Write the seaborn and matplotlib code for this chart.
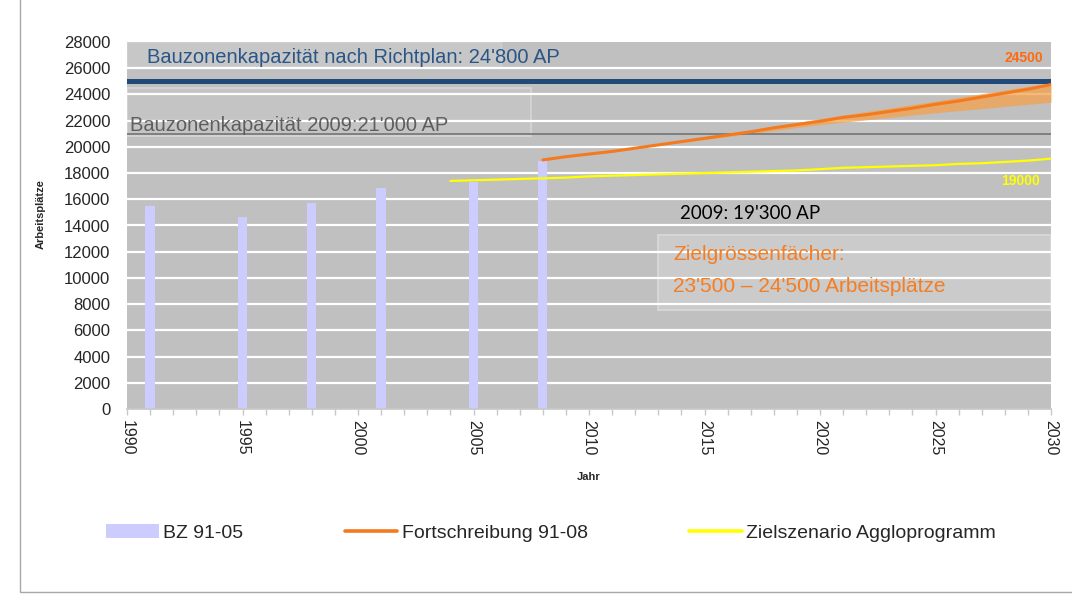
import matplotlib
matplotlib.use("Agg")
import matplotlib.pyplot as plt
from matplotlib.lines import Line2D
from matplotlib.patches import Patch, Rectangle
from matplotlib.ticker import MultipleLocator
import pandas as pd
import seaborn as sns

# Bauzonen-Zählungen (BZ)
BAR_YEARS = [1991, 1995, 1998, 2001, 2005, 2008]
BAR_VALUES = [15450, 14650, 15750, 16850, 17350, 18900]

# Fortschreibung 91-08
TREND_YEARS = list(range(2008, 2031))
TREND_VALUES = [19000, 19250, 19450, 19650, 19900, 20150, 20400, 20650, 20900,
                21150, 21450, 21700, 21950, 22250, 22450, 22700, 22950, 23250,
                23500, 23800, 24100, 24400, 24750]

# Zielgrössenfächer
FAN_YEARS = [2012, 2015, 2020, 2025, 2030]
FAN_LOW = [19900, 20550, 21700, 22600, 23400]
FAN_HIGH = [19900, 20700, 22150, 23500, 24900]

# Zielszenario Aggloprogramm
TARGET_YEARS = list(range(2004, 2031))
TARGET_VALUES = [17400, 17450, 17500, 17550, 17600, 17650, 17750, 17800, 17850,
                 17900, 17950, 18000, 18050, 18100, 18150, 18200, 18300, 18400,
                 18450, 18500, 18550, 18600, 18700, 18750, 18850, 18950, 19100]

CAPACITY_PLAN = 25000
CAPACITY_2009 = 21000

BAR_COLOR = "#ccccff"
ORANGE = "#f47a1f"
YELLOW = "#ffff00"
NAVY = "#21497a"
PLOT_BG = "#c0c0c0"


def main():
    sns.set_theme(style="white")
    plt.rcParams["font.family"] = ["Liberation Sans", "DejaVu Sans"]

    fig, ax = plt.subplots(figsize=(10.72, 5.96), dpi=100)
    ax.set_position([127 / 1072, 1 - 409 / 596, 924 / 1072, 367 / 596])
    ax.set_facecolor(PLOT_BG)

    for y in range(2000, 28000, 2000):
        ax.axhline(y, color="white", linewidth=1.6, zorder=1)

    # text boxes behind the annotations
    ax.add_patch(Rectangle((1990, 26100), 16.2, 1900, facecolor="#c7c7c7",
                           edgecolor="#cfcfcf", linewidth=1, zorder=0.5))
    ax.add_patch(Rectangle((1990, 20850), 17.5, 3650, facecolor="#c4c4c4",
                           edgecolor="#d2d2d2", linewidth=1.5, zorder=0.5))
    ax.add_patch(Rectangle((2013.0, 7550), 17.0, 5700, facecolor="#cbcbcb",
                           edgecolor="#d6d6d6", linewidth=1.5, zorder=0.8))

    bars = pd.DataFrame({"Jahr": BAR_YEARS, "Arbeitsplätze": BAR_VALUES})
    sns.barplot(data=bars, x="Jahr", y="Arbeitsplätze", native_scale=True,
                width=0.4 / 3, color=BAR_COLOR, saturation=1, linewidth=0,
                ax=ax, zorder=2)

    ax.fill_between(FAN_YEARS, FAN_LOW, FAN_HIGH, color="#f3a24c", alpha=0.75,
                    linewidth=0, zorder=2.5)

    ax.axhline(CAPACITY_PLAN, color=NAVY, linewidth=3.6, zorder=3)
    ax.axhline(CAPACITY_2009, color="#7a7a7a", linewidth=1.3, zorder=3)

    trend = pd.DataFrame({"Jahr": TREND_YEARS, "AP": TREND_VALUES})
    target = pd.DataFrame({"Jahr": TARGET_YEARS, "AP": TARGET_VALUES})
    sns.lineplot(data=trend, x="Jahr", y="AP", color=ORANGE, linewidth=2.2,
                 ax=ax, zorder=4)
    sns.lineplot(data=target, x="Jahr", y="AP", color=YELLOW, linewidth=1.6,
                 ax=ax, zorder=4)

    ax.text(1990.87, 26850, "Bauzonenkapazität nach Richtplan: 24'800 AP",
            color="#2a5687", fontsize=14.5, va="center", ha="left", zorder=5)
    ax.text(1990.13, 21600, "Bauzonenkapazität 2009:21'000 AP",
            color="#5e5e5e", fontsize=14.5, va="center", ha="left", zorder=5)
    ax.text(2013.94, 14950, "2009: 19'300 AP", color="black", fontsize=13.5,
            family=["Lato", "DejaVu Sans"], va="center", ha="left", zorder=5)
    ax.text(2013.64, 11750, "Zielgrössenfächer:", color="#f57d22",
            fontsize=15, va="center", ha="left", zorder=5)
    ax.text(2013.64, 9310, "23'500 – 24'500 Arbeitsplätze", color="#f57d22",
            fontsize=15, va="center", ha="left", zorder=5)
    ax.text(2029.65, 26780, "24500", color="#ff6a10", fontsize=10,
            fontweight="bold", va="center", ha="right", zorder=5)
    ax.text(2029.5, 17400, "19000", color=YELLOW, fontsize=10,
            fontweight="bold", va="center", ha="right", zorder=5)

    ax.set_xlim(1990, 2030)
    ax.set_ylim(0, 28000)
    ax.xaxis.set_major_locator(MultipleLocator(5))
    ax.xaxis.set_minor_locator(MultipleLocator(1))
    ax.yaxis.set_major_locator(MultipleLocator(2000))
    ax.tick_params(axis="x", which="both", bottom=True, length=4,
                   color="#c8c8c8", width=1)
    ax.tick_params(axis="x", which="major", labelsize=11.5, labelrotation=-90,
                   pad=4)
    ax.tick_params(axis="y", left=False, labelsize=12, pad=6)
    for lab in ax.get_xticklabels():
        lab.set_va("top")
        lab.set_ha("center")

    for side in ["top", "right", "left"]:
        ax.spines[side].set_visible(False)
    ax.spines["bottom"].set_color("#c8c8c8")

    ax.set_xlabel("Jahr", fontsize=8, fontweight="bold", labelpad=12)
    ax.set_ylabel("Arbeitsplätze", fontsize=8, fontweight="bold")
    ax.yaxis.set_label_coords(-0.088, 0.53)

    handles = [
        Patch(facecolor=BAR_COLOR, edgecolor="none"),
        Line2D([], [], color=ORANGE, linewidth=2.6),
        Line2D([], [], color=YELLOW, linewidth=2.6),
    ]
    labels = ["BZ 91-05", "Fortschreibung 91-08", "Zielszenario Aggloprogramm"]
    fig.legend(handles, labels, loc="center left",
               bbox_to_anchor=(106 / 1072, 1 - 533 / 596), ncol=3,
               frameon=False, fontsize=14, handlelength=2.7,
               handletextpad=0.25, columnspacing=5.2, borderaxespad=0,
               borderpad=0)

    fig.patches.append(Rectangle((20 / 1072, 4 / 596), 1.2, 1.2,
                                 transform=fig.transFigure, fill=False,
                                 edgecolor="#a8a8a8", linewidth=1))

    fig.savefig("out.png", dpi=100)


if __name__ == "__main__":
    main()
